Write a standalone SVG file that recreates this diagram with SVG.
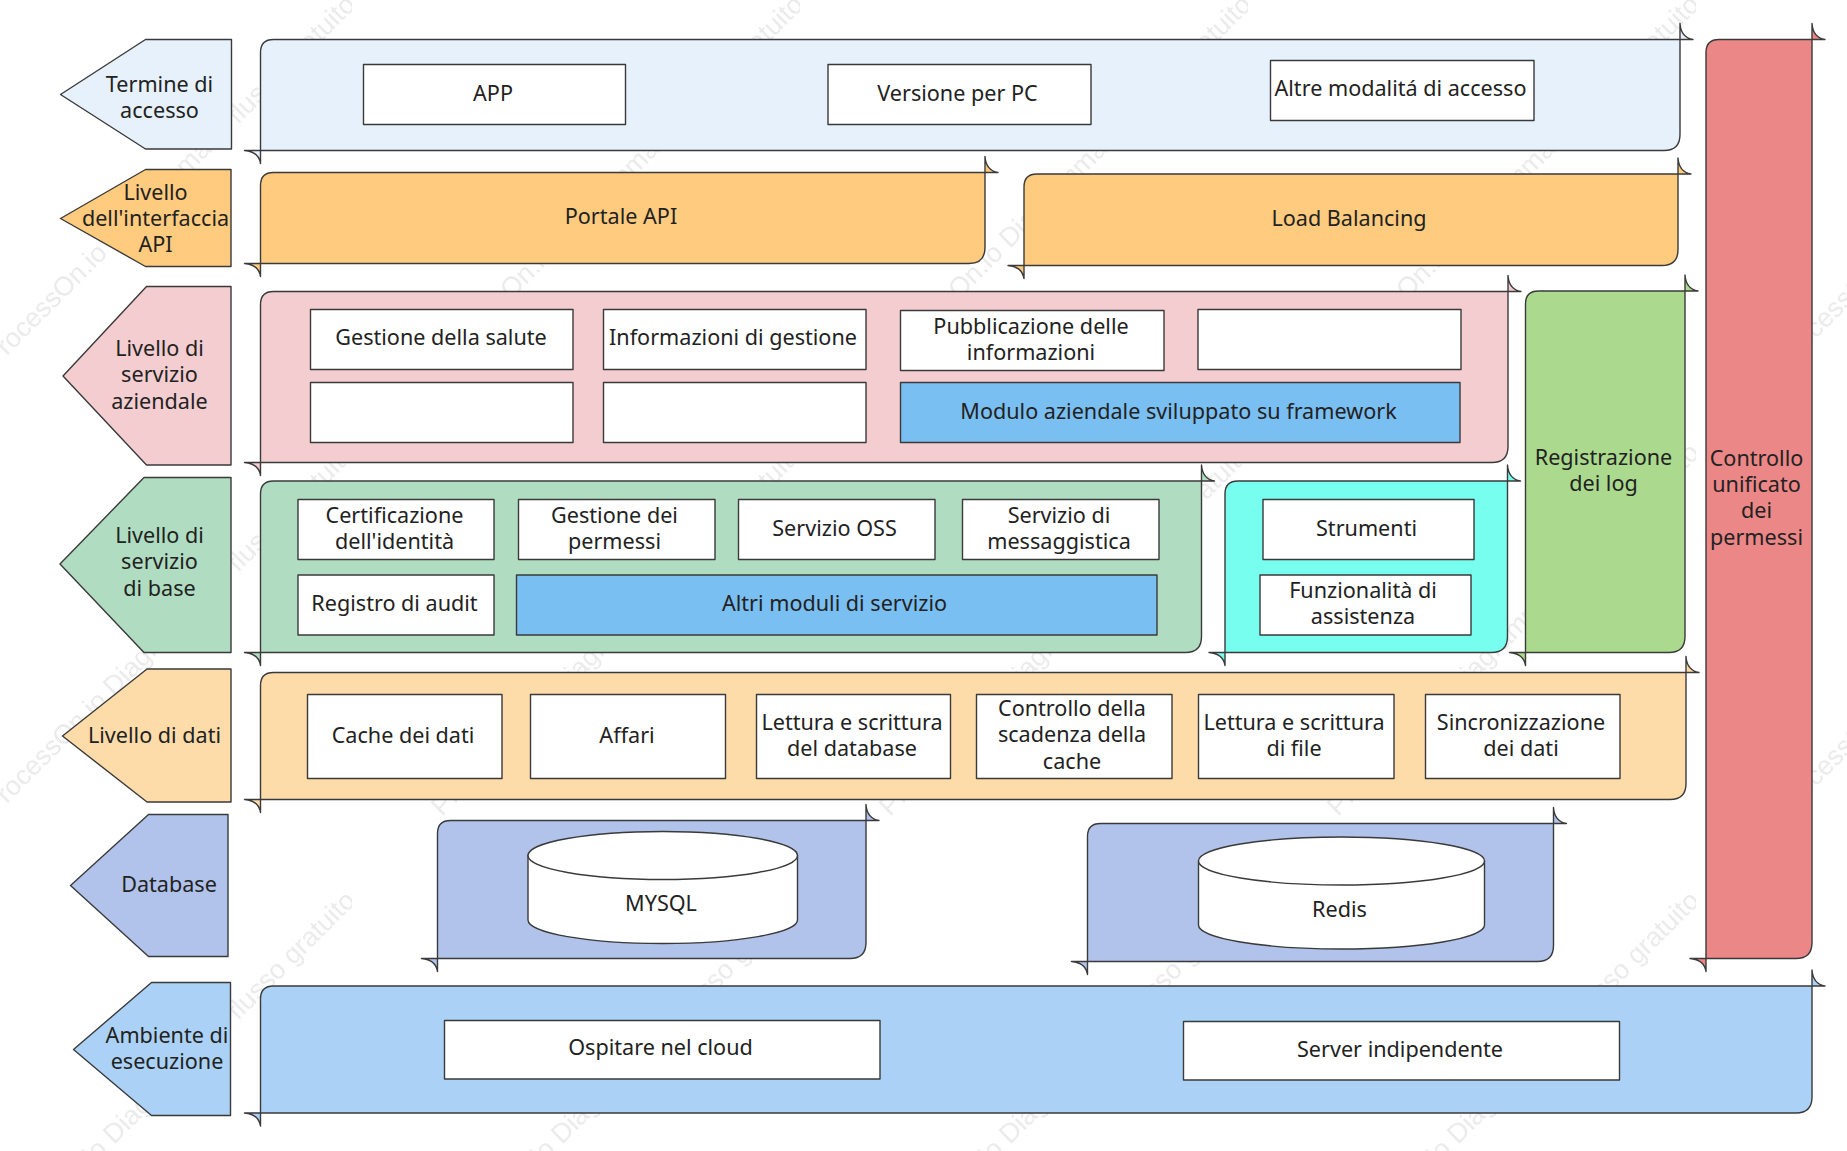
<svg xmlns="http://www.w3.org/2000/svg" width="1847" height="1151" viewBox="0 0 1847 1151">
<style>
text{font-family:"Noto Sans","Open Sans","DejaVu Sans",sans-serif;font-size:21.6px;fill:#222;text-anchor:middle}
text.wm{font-family:"Liberation Sans",Arial,sans-serif;font-size:27px;fill:#ebebeb;text-anchor:start}
.s{stroke:#3a3a3a;stroke-width:1.4;stroke-linejoin:round}
.w{fill:#fff}.b{fill:#7abff2}
.c1{fill:#e6f1fc}.c2{fill:#ffcc7f}.c3{fill:#f4cdd0}.c4{fill:#b0ddc1}.c5{fill:#fedca9}.c6{fill:#b1c3ea}.c7{fill:#abd2f6}.c8{fill:#ec8787}.c9{fill:#abda8e}.c10{fill:#77feee}
</style>
<defs>
<pattern id="wmark" patternUnits="userSpaceOnUse" x="-96" y="420" width="448" height="448">
<text class="wm" x="90" y="397" transform="rotate(-45 90 397)">ProcessOn.io Diagramma di flusso gratuito</text>
</pattern>
</defs>
<rect width="1847" height="1151" fill="#fff"/>
<rect width="1847" height="1151" fill="url(#wmark)"/>

<g id="label-accesso"><path class="s c1" d="M60.500 94.500L145.500 39.500H231.500V149H145.500Z"/><text><tspan x="159.500" y="91.500">Termine di</tspan><tspan x="159.500" y="118">accesso</tspan></text></g>
<g id="label-api"><path class="s c2" d="M60.500 218.500L145.500 169.500H231V266.500H145.500Z"/><text><tspan x="155.500" y="200">Livello</tspan><tspan x="155.500" y="226">dell'interfaccia</tspan><tspan x="155.500" y="252">API</tspan></text></g>
<g id="label-aziendale"><path class="s c3" d="M63 376L146.500 286.500H231V465H146.500Z"/><text><tspan x="159.500" y="355.500">Livello di</tspan><tspan x="159.500" y="382">servizio</tspan><tspan x="159.500" y="408.500">aziendale</tspan></text></g>
<g id="label-base"><path class="s c4" d="M60 564L144 477.500H231V652.500H144Z"/><text><tspan x="159.500" y="543">Livello di</tspan><tspan x="159.500" y="569">servizio</tspan><tspan x="159.500" y="596">di base</tspan></text></g>
<g id="label-dati"><path class="s c5" d="M62.500 736L147 669H231V802H147Z"/><text x="154.500" y="743">Livello di dati</text></g>
<g id="label-database"><path class="s c6" d="M70.500 885.500L148.500 814.500H228V956.500H148.500Z"/><text x="169" y="891.500">Database</text></g>
<g id="label-esecuzione"><path class="s c7" d="M73.500 1049.500L151.500 982.500H230.500V1115.500H151.500Z"/><text><tspan x="167" y="1042.500">Ambiente di</tspan><tspan x="167" y="1068.500">esecuzione</tspan></text></g>

<g id="panel-accesso"><path class="s c1" d="M260.500 150.500V52.500Q260.500 39.500 273.500 39.500H1680V134.500Q1680 150.500 1664 150.500ZM1680 39.500V23.500Q1681 37.500 1693 39.500ZM260.500 150.500H244.500Q258.500 151.500 260.500 163.500Z"/></g>
<g id="node-app"><rect class="s w" x="363.500" y="64.500" width="262" height="60"/><text x="493" y="100.500">APP</text></g>
<g id="node-pc"><rect class="s w" x="828" y="64.500" width="263" height="60"/><text x="957.500" y="101">Versione per PC</text></g>
<g id="node-altre"><rect class="s w" x="1270.500" y="60.500" width="263.500" height="60"/><text x="1400.500" y="96">Altre modalitá di accesso</text></g>

<g id="panel-portale"><path class="s c2" d="M260.500 263.500V185.500Q260.500 172.500 273.500 172.500H985V247.500Q985 263.500 969 263.500ZM985 172.500V156.500Q986 170.500 998 172.500ZM260.500 263.500H244.500Q258.500 264.500 260.500 276.500Z"/><text x="621" y="224">Portale API</text></g>
<g id="panel-load"><path class="s c2" d="M1024 265.500V187Q1024 174 1037 174H1678V249.500Q1678 265.500 1662 265.500ZM1678 174V158Q1679 172 1691 174ZM1024 265.500H1008Q1022 266.500 1024 278.500Z"/><text x="1349" y="226">Load Balancing</text></g>

<g id="panel-aziendale"><path class="s c3" d="M260.500 462.500V304.500Q260.500 291.500 273.500 291.500H1508V446.500Q1508 462.500 1492 462.500ZM1508 291.500V275.500Q1509 289.500 1521 291.500ZM260.500 462.500H244.500Q258.500 463.500 260.500 475.500Z"/></g>
<g id="node-salute"><rect class="s w" x="310.500" y="309.500" width="262.500" height="60"/><text x="441" y="344.500">Gestione della salute</text></g>
<g id="node-info"><rect class="s w" x="603.500" y="309.500" width="262.500" height="60"/><text x="733" y="344.500">Informazioni di gestione</text></g>
<g id="node-pubb"><rect class="s w" x="900.500" y="310.500" width="263.500" height="60"/><text><tspan x="1031" y="334">Pubblicazione delle</tspan><tspan x="1031" y="360">informazioni</tspan></text></g>
<g id="node-empty1"><rect class="s w" x="1198" y="309.500" width="263" height="60"/></g>
<g id="node-empty2"><rect class="s w" x="310.500" y="382.500" width="262.500" height="60"/></g>
<g id="node-empty3"><rect class="s w" x="603.500" y="382.500" width="262.500" height="60"/></g>
<g id="node-modulo"><rect class="s b" x="900.500" y="382.500" width="559.500" height="60"/><text x="1178.500" y="418.500">Modulo aziendale sviluppato su framework</text></g>

<g id="panel-base"><path class="s c4" d="M260.500 652.500V494Q260.500 481 273.500 481H1201.500V636.500Q1201.500 652.500 1185.500 652.500ZM1201.500 481V465Q1202.500 479 1214.500 481ZM260.500 652.500H244.500Q258.500 653.500 260.500 665.500Z"/></g>
<g id="node-cert"><rect class="s w" x="298" y="499.500" width="196" height="60"/><text><tspan x="394.500" y="523">Certificazione</tspan><tspan x="394.500" y="549">dell'identità</tspan></text></g>
<g id="node-perm"><rect class="s w" x="518.500" y="499.500" width="196.500" height="60"/><text><tspan x="614.500" y="523">Gestione dei</tspan><tspan x="614.500" y="549">permessi</tspan></text></g>
<g id="node-oss"><rect class="s w" x="738.500" y="499.500" width="196.500" height="60"/><text x="834.500" y="536">Servizio OSS</text></g>
<g id="node-msg"><rect class="s w" x="962.500" y="499.500" width="196.500" height="60"/><text><tspan x="1059" y="523">Servizio di</tspan><tspan x="1059" y="549">messaggistica</tspan></text></g>
<g id="node-audit"><rect class="s w" x="298" y="575" width="196" height="60"/><text x="394.500" y="611">Registro di audit</text></g>
<g id="node-altri"><rect class="s b" x="516.500" y="575" width="640.500" height="60"/><text x="834.500" y="611">Altri moduli di servizio</text></g>

<g id="panel-assist"><path class="s c10" d="M1225 652.500V494Q1225 481 1238 481H1507.500V636.500Q1507.500 652.500 1491.500 652.500ZM1507.500 481V465Q1508.500 479 1520.500 481ZM1225 652.500H1209Q1223 653.500 1225 665.500Z"/></g>
<g id="node-strumenti"><rect class="s w" x="1263" y="499.500" width="211" height="60"/><text x="1366.500" y="536">Strumenti</text></g>
<g id="node-funz"><rect class="s w" x="1260" y="575" width="211" height="60"/><text><tspan x="1363" y="598">Funzionalità di</tspan><tspan x="1363" y="624">assistenza</tspan></text></g>

<g id="panel-log"><path class="s c9" d="M1525.500 652.500V304Q1525.500 291 1538.500 291H1685V636.500Q1685 652.500 1669 652.500ZM1685 291V275Q1686 289 1698 291ZM1525.500 652.500H1509.500Q1523.500 653.500 1525.500 665.500Z"/><text><tspan x="1603.500" y="465">Registrazione</tspan><tspan x="1603.500" y="491">dei log</tspan></text></g>

<g id="panel-permessi"><path class="s c8" d="M1706 958.500V52.500Q1706 39.500 1719 39.500H1812V942.500Q1812 958.500 1796 958.500ZM1812 39.500V23.500Q1813 37.500 1825 39.500ZM1706 958.500H1690Q1704 959.500 1706 971.500Z"/><text><tspan x="1756.500" y="466">Controllo</tspan><tspan x="1756.500" y="492">unificato</tspan><tspan x="1756.500" y="518">dei</tspan><tspan x="1756.500" y="545">permessi</tspan></text></g>

<g id="panel-dati"><path class="s c5" d="M260.500 799.500V685.500Q260.500 672.500 273.500 672.500H1686V783.500Q1686 799.500 1670 799.500ZM1686 672.500V656.500Q1687 670.500 1699 672.500ZM260.500 799.500H244.500Q258.500 800.500 260.500 812.500Z"/></g>
<g id="node-cache"><rect class="s w" x="307.500" y="694.500" width="194.500" height="84"/><text x="403" y="743">Cache dei dati</text></g>
<g id="node-affari"><rect class="s w" x="530.500" y="694.500" width="195" height="84"/><text x="627" y="743">Affari</text></g>
<g id="node-lettdb"><rect class="s w" x="756.500" y="694.500" width="194" height="84"/><text><tspan x="852" y="730">Lettura e scrittura</tspan><tspan x="852" y="756">del database</tspan></text></g>
<g id="node-scadenza"><rect class="s w" x="976.500" y="694.500" width="195.500" height="84"/><text><tspan x="1072" y="716">Controllo della</tspan><tspan x="1072" y="742">scadenza della</tspan><tspan x="1072" y="769">cache</tspan></text></g>
<g id="node-lettfile"><rect class="s w" x="1198.500" y="694.500" width="195.500" height="84"/><text><tspan x="1294" y="730">Lettura e scrittura</tspan><tspan x="1294" y="756">di file</tspan></text></g>
<g id="node-sinc"><rect class="s w" x="1425.500" y="694.500" width="194.500" height="84"/><text><tspan x="1521" y="730">Sincronizzazione</tspan><tspan x="1521" y="756">dei dati</tspan></text></g>

<g id="panel-mysql"><path class="s c6" d="M437.500 958.500V833.500Q437.500 820.500 450.500 820.500H866V942.500Q866 958.500 850 958.500ZM866 820.500V804.500Q867 818.500 879 820.500ZM437.500 958.500H421.500Q435.500 959.500 437.500 971.500Z"/></g>
<g id="node-mysql"><path class="s w" d="M528 855V920A134.750 23.500 0 0 0 797.500 920V855Z"/><ellipse class="s w" cx="662.750" cy="855.500" rx="134.750" ry="24"/><text x="661" y="911">MYSQL</text></g>
<g id="panel-redis"><path class="s c6" d="M1087.500 961.500V836.500Q1087.500 823.500 1100.500 823.500H1553.500V945.500Q1553.500 961.500 1537.500 961.500ZM1553.500 823.500V807.500Q1554.500 821.500 1566.500 823.500ZM1087.500 961.500H1071.500Q1085.500 962.500 1087.500 974.500Z"/></g>
<g id="node-redis"><path class="s w" d="M1198.500 861V925A143 24 0 0 0 1484.500 925V861Z"/><ellipse class="s w" cx="1341.500" cy="861" rx="143" ry="24"/><text x="1339.500" y="916.500">Redis</text></g>

<g id="panel-esecuzione"><path class="s c7" d="M260.500 1113V999Q260.500 986 273.500 986H1812V1097Q1812 1113 1796 1113ZM1812 986V970Q1813 984 1825 986ZM260.500 1113H244.500Q258.500 1114 260.500 1126Z"/></g>
<g id="node-cloud"><rect class="s w" x="444.500" y="1020.500" width="435.500" height="58.500"/><text x="660.500" y="1055">Ospitare nel cloud</text></g>
<g id="node-server"><rect class="s w" x="1183.500" y="1021.500" width="436" height="58.500"/><text x="1400" y="1057">Server indipendente</text></g>
</svg>
